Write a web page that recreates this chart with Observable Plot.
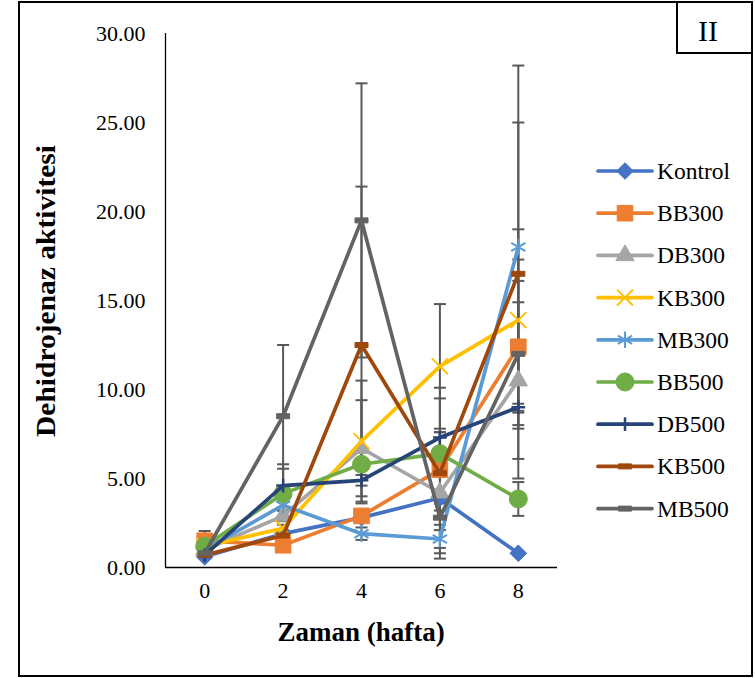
<!DOCTYPE html>
<html><head><meta charset="utf-8">
<script src="https://cdn.jsdelivr.net/npm/d3@7"></script>
<script src="https://cdn.jsdelivr.net/npm/@observablehq/plot@0.6"></script>
<style>html,body{margin:0;padding:0;background:#fff}</style>
</head><body><div id="chart"></div>
<script>
// ---- data ----
const weeks = [0, 2, 4, 6, 8];
const xTicks = [0, 2, 4, 6, 8];
const yTicks = [0, 5, 10, 15, 20, 25, 30];
const seriesNames = ["Kontrol", "BB300", "DB300", "KB300", "MB300", "BB500", "DB500", "KB500", "MB500"];
const seriesColors = ["#4472C4", "#ED7D31", "#A5A5A5", "#FFC000", "#5B9BD5", "#70AD47", "#264478", "#9E480E", "#636363"];

const kontrol = [0.6, 1.9, 2.8, 3.9, 0.8];
const bb300   = [1.5, 1.25, 2.9, 5.5, 12.4];
const db300   = [1.0, 2.9, 6.7, 4.2, 10.5];
const kb300   = [1.2, 2.2, 7.1, 11.3, 13.9];
const mb300   = [1.0, 3.5, 1.9, 1.6, 18.0];
const bb500   = [1.2, 4.15, 5.8, 6.4, 3.85];
const db500   = [0.7, 4.6, 4.9, 7.3, 9.0];
const kb500   = [0.7, 1.8, 12.5, 5.3, 16.5];
const mb500   = [0.8, 8.5, 19.5, 2.8, 12.0];

const kontrolErr = [0.1, 0.2, 0.2, 0.3, 0.1];
const bb300Err   = [0.55, 0.2, 0.2, 0.4, 3.7];
const db300Err   = [0.2, 0.3, 2.7, 3.4, 4.4];
const kb300Err   = [0.2, 0.2, 3.4, 3.5, 3.4];
const mb300Err   = [0.2, 0.3, 0.35, 0.5, 10.2];
const bb500Err   = [0.2, 1.4, 0.3, 1.2, 0.95];
const db500Err   = [0.1, 1.2, 0.3, 2.2, 0.2];
const kb500Err   = [0.1, 0.2, 8.9, 4.8, 8.5];
const mb500Err   = [0.1, 4.0, 7.7, 0.4, 7.0];

const values = [kontrol, bb300, db300, kb300, mb300, bb500, db500, kb500, mb500];
const errors = [kontrolErr, bb300Err, db300Err, kb300Err, mb300Err, bb500Err, db500Err, kb500Err, mb500Err];

const data = seriesNames.flatMap((s, i) => weeks.map((w, j) => ({series: s, idx: i, week: w, value: values[i][j], err: errors[i][j]})));

// ---- symbols ----
const capSymbol = {draw(ctx, size) { const r = Math.sqrt(size / Math.PI); ctx.moveTo(-r, 0); ctx.lineTo(r, 0); }};
const dashSymbol = {draw(ctx, size) { const r = Math.sqrt(size / Math.PI); ctx.rect(-r, -2.5, 2 * r, 5); }};

const markerSpec = [
  {symbol: "diamond2", r: 7.5, filled: true},
  {symbol: "square", r: 8.8, filled: true},
  {symbol: "triangle", r: 6.8, filled: true},
  {symbol: "times", r: 7.3, filled: false, sw: 2},
  {symbol: "asterisk", r: 7.8, filled: false, sw: 2},
  {symbol: "circle", r: 9, filled: true},
  {symbol: "plus", r: 4.5, filled: false, sw: 2.5},
  {symbol: dashSymbol, r: 6.5, filled: true},
  {symbol: dashSymbol, r: 6.5, filled: true}
];

const serif = "'Liberation Serif', 'Times New Roman', serif";
const errColor = "#595959";

const seriesMarks = seriesNames.flatMap((s, i) => {
  const d = data.filter(e => e.idx === i);
  const m = markerSpec[i];
  const c = seriesColors[i];
  return [
    Plot.line(d, {x: "week", y: "value", stroke: c, strokeWidth: 3.7, strokeLinejoin: "round", strokeLinecap: "round"}),
    Plot.dot(d, {x: "week", y: "value", symbol: m.symbol, r: m.r,
      fill: m.filled ? c : "none", stroke: c, strokeWidth: m.filled ? 1 : m.sw})
  ];
});

const chart = Plot.plot({
  width: 755, height: 678,
  marginLeft: 165, marginRight: 198, marginTop: 33, marginBottom: 111,
  x: {domain: [-1, 9]},
  y: {domain: [0, 30]},
  style: {fontFamily: serif, fontSize: "22px", color: "#000", background: "#fff", overflow: "visible"},
  marks: [
    Plot.axisY({ticks: yTicks, tickFormat: d => d.toFixed(2), tickSize: 0, tickPadding: 20, label: null}),
    Plot.axisX({ticks: xTicks, tickFormat: d => String(d), tickSize: 0, tickPadding: 15, label: null}),
    Plot.ruleX([-1], {stroke: "#000", strokeWidth: 1.3}),
    Plot.ruleY([0], {stroke: "#000", strokeWidth: 1.3}),
    Plot.ruleX(data, {x: "week", y1: d => d.value - d.err, y2: d => d.value + d.err, stroke: errColor, strokeWidth: 2}),
    Plot.dot(data, {x: "week", y: d => d.value + d.err, symbol: capSymbol, r: 6, stroke: errColor, strokeWidth: 2}),
    Plot.dot(data, {x: "week", y: d => d.value - d.err, symbol: capSymbol, r: 6, stroke: errColor, strokeWidth: 2}),
    ...seriesMarks
  ]
});

document.getElementById("chart").appendChild(chart);
const svg = d3.select(chart);

// outer border
svg.append("rect").attr("x", 19).attr("y", 2).attr("width", 733).attr("height", 674)
  .attr("fill", "none").attr("stroke", "#000").attr("stroke-width", 2);
// "II" box
svg.append("rect").attr("x", 677).attr("y", 2).attr("width", 75).attr("height", 51)
  .attr("fill", "#fff").attr("stroke", "#000").attr("stroke-width", 2);
svg.append("text").attr("x", 708).attr("y", 30).attr("text-anchor", "middle").attr("dominant-baseline", "central")
  .attr("font-family", serif).attr("font-size", 30).attr("fill", "#000").text("II");

// axis titles
svg.append("text").attr("x", 361).attr("y", 632).attr("text-anchor", "middle").attr("dominant-baseline", "central")
  .attr("font-family", serif).attr("font-weight", "bold").attr("font-size", 27).attr("fill", "#000").text("Zaman (hafta)");
svg.append("text").attr("transform", "translate(46,291) rotate(-90)").attr("text-anchor", "middle").attr("dominant-baseline", "central")
  .attr("font-family", serif).attr("font-weight", "bold").attr("font-size", 27).attr("fill", "#000")
  .attr("textLength", 292).attr("lengthAdjust", "spacingAndGlyphs").text("Dehidrojenaz aktivitesi");

// legend
const lg = svg.append("g");
seriesNames.forEach((s, i) => {
  const y = 171 + i * 42.2;
  const c = seriesColors[i];
  const m = markerSpec[i];
  const g = lg.append("g");
  g.append("line").attr("x1", 598).attr("x2", 652).attr("y1", y).attr("y2", y)
    .attr("stroke", c).attr("stroke-width", 3.7).attr("stroke-linecap", "round");
  const sym = typeof m.symbol === "string" ? {diamond2: d3.symbolDiamond2, square: d3.symbolSquare, triangle: d3.symbolTriangle,
    times: d3.symbolTimes, asterisk: d3.symbolAsterisk, circle: d3.symbolCircle, plus: d3.symbolPlus}[m.symbol] : m.symbol;
  g.append("path").attr("transform", `translate(625,${y})`).attr("d", d3.symbol(sym, Math.PI * m.r * m.r)())
    .attr("fill", m.filled ? c : "none").attr("stroke", c).attr("stroke-width", m.filled ? 1 : m.sw);
  g.append("text").attr("x", 657).attr("y", y).attr("text-anchor", "start").attr("dominant-baseline", "central")
    .attr("font-family", serif).attr("font-size", 23.5).attr("fill", "#000").text(s);
});
</script>
</body></html>
